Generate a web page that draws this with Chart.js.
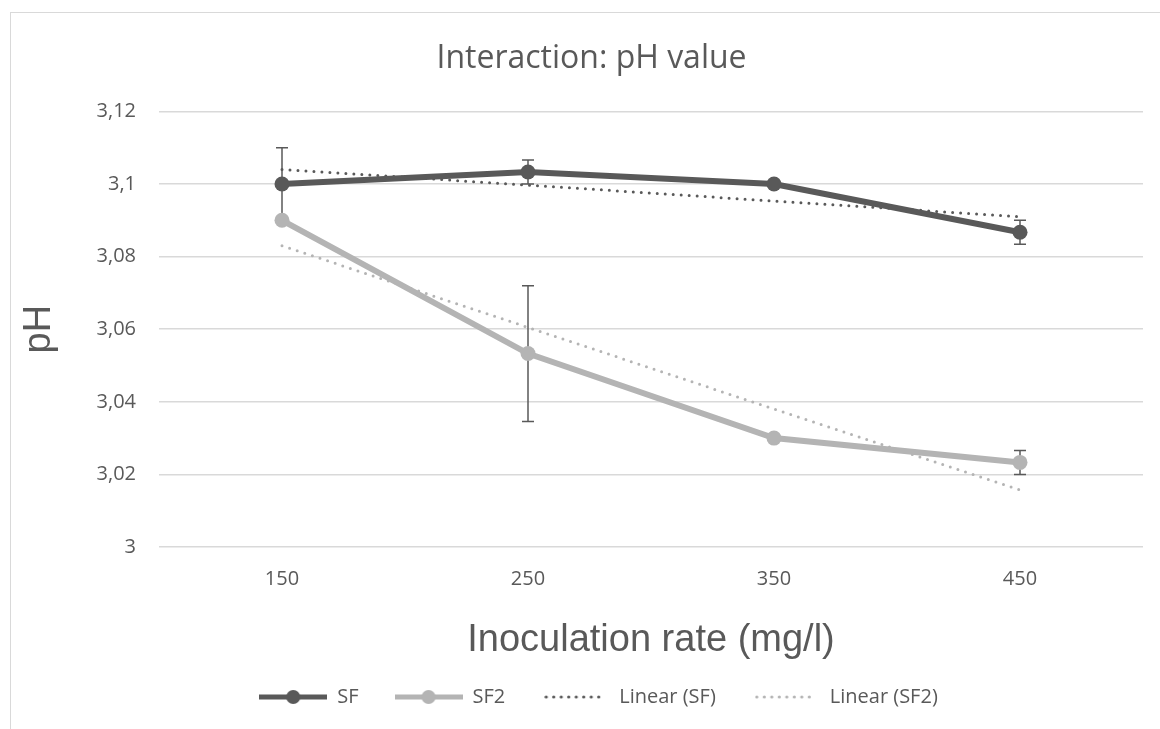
<!DOCTYPE html>
<html>
<head>
<meta charset="utf-8">
<script src="https://cdn.jsdelivr.net/npm/chart.js@4.4.0/dist/chart.umd.min.js"></script>
<style>
  body { margin: 0; background: #ffffff; }
  #wrap { position: relative; width: 1160px; height: 729px; }
</style>
</head>
<body>
<div id="wrap"><canvas id="phChart" width="1160" height="729"></canvas></div>
<script>
// categories and values
let rates = ["150", "250", "350", "450"];
let sfValues = [3.1, 3.1033, 3.1, 3.0867];
let sf2Values = [3.09, 3.0533, 3.03, 3.0233];
let sfErrors = [0.01, 0.0033, 0, 0.0033];
let sf2Errors = [0, 0.0187, 0, 0.0033];
let sfTrend = [3.104, 3.0997, 3.0953, 3.091];
let sf2Trend = [3.083, 3.0605, 3.038, 3.0157];
let yTicks = [3, 3.02, 3.04, 3.06, 3.08, 3.1, 3.12];

let darkGrey = '#595959';
let lightGrey = '#b4b4b4';
let textGrey = '#595959';

// little pictures for the legend
function lineIcon(color) {
    let c = document.createElement('canvas');
    c.width = 68; c.height = 18;
    let g = c.getContext('2d');
    g.strokeStyle = color;
    g.lineWidth = 5;
    g.beginPath(); g.moveTo(0, 9); g.lineTo(68, 9); g.stroke();
    g.fillStyle = color;
    g.beginPath(); g.arc(34, 9, 7, 0, Math.PI * 2); g.fill();
    return c;
}
function dotIcon(color) {
    let c = document.createElement('canvas');
    c.width = 62; c.height = 18;
    let g = c.getContext('2d');
    g.fillStyle = color;
    for (let x = 2; x < 62; x += 7.5) {
        g.beginPath(); g.arc(x, 9, 1.6, 0, Math.PI * 2); g.fill();
    }
    return c;
}
let legendIcons = [lineIcon(darkGrey), lineIcon(lightGrey), dotIcon(darkGrey), dotIcon(lightGrey)];

// error bars, the outer frame, and centring title/legend on the whole chart box
let extras = {
    id: 'extras',
    afterLayout(chart) {
        chart.titleBlock.left += 15;
        chart.titleBlock.right += 15;
        chart.legend.left += 22;
        chart.legend.right += 22;
    },
    beforeDraw(chart) {
        let ctx = chart.ctx;
        ctx.save();
        ctx.strokeStyle = '#d9d9d9';
        ctx.lineWidth = 1;
        ctx.strokeRect(10.5, 12.5, 1200, 800);
        ctx.restore();
    },
    beforeDatasetsDraw(chart) {
        let ctx = chart.ctx;
        let xs = chart.scales.x, ys = chart.scales.y;
        let sets = [[sfValues, sfErrors], [sf2Values, sf2Errors]];
        ctx.save();
        ctx.strokeStyle = darkGrey;
        ctx.lineWidth = 1.5;
        sets.forEach(function (s) {
            s[0].forEach(function (v, i) {
                let e = s[1][i];
                if (!e) return;
                let x = xs.getPixelForValue(i);
                let top = ys.getPixelForValue(v + e);
                let bot = ys.getPixelForValue(v - e);
                ctx.beginPath();
                ctx.moveTo(x, top); ctx.lineTo(x, bot);
                ctx.moveTo(x - 6, top); ctx.lineTo(x + 6, top);
                ctx.moveTo(x - 6, bot); ctx.lineTo(x + 6, bot);
                ctx.stroke();
            });
        });
        ctx.restore();
    }
};

let phData = {
    labels: rates,
    datasets: [
        {
            label: 'SF',
            data: sfValues,
            borderColor: darkGrey,
            backgroundColor: darkGrey,
            borderWidth: 6,
            pointRadius: 7.5,
            pointBorderWidth: 0,
            pointHoverRadius: 7.5
        },
        {
            label: 'SF2',
            data: sf2Values,
            borderColor: lightGrey,
            backgroundColor: lightGrey,
            borderWidth: 6,
            pointRadius: 7.5,
            pointBorderWidth: 0,
            pointHoverRadius: 7.5
        },
        {
            label: 'Linear (SF)',
            data: sfTrend,
            borderColor: darkGrey,
            borderWidth: 3,
            borderDash: [0, 8],
            borderCapStyle: 'round',
            pointRadius: 0
        },
        {
            label: 'Linear (SF2)',
            data: sf2Trend,
            borderColor: lightGrey,
            borderWidth: 3,
            borderDash: [0, 8],
            borderCapStyle: 'round',
            pointRadius: 0
        }
    ]
};

let phOptions = {
    responsive: false,
    animation: { duration: 0 },
    layout: { padding: { left: 10, right: 17, top: 0, bottom: 12 } },
    scales: {
        x: {
            offset: true,
            grid: { display: false, drawTicks: false },
            border: { display: false },
            ticks: { color: textGrey, font: { family: 'Open Sans', size: 20 }, padding: 20 },
            title: {
                display: true,
                text: 'Inoculation rate (mg/l)',
                color: textGrey,
                font: { family: 'Liberation Sans', size: 38 },
                padding: { top: 0, bottom: -12 }
            },
            afterFit(scale) { scale.height = 104; }
        },
        y: {
            min: 3,
            max: 3.12,
            afterBuildTicks(scale) { scale.ticks = yTicks.map(function (v) { return { value: v }; }); },
            grid: { color: '#d9d9d9', lineWidth: 1.5, drawTicks: false },
            border: { display: false },
            ticks: {
                color: textGrey,
                font: { family: 'Open Sans', size: 20 },
                padding: 23,
                callback: function (v) { return String(Math.round(v * 100) / 100).replace('.', ','); }
            },
            title: {
                display: true,
                text: 'pH',
                color: textGrey,
                font: { family: 'Liberation Sans', size: 38 },
                padding: { top: 7, bottom: 0 }
            },
            afterFit(scale) { scale.width = 149; }
        }
    },
    plugins: {
        title: {
            display: true,
            text: 'Interaction: pH value',
            color: textGrey,
            font: { family: 'Open Sans', size: 32, weight: 'normal' },
            padding: { top: 40, bottom: 33 }
        },
        legend: {
            position: 'bottom',
            labels: {
                color: textGrey,
                font: { family: 'Open Sans', size: 20 },
                usePointStyle: true,
                pointStyleWidth: 68,
                padding: 36,
                generateLabels: function (chart) {
                    let items = Chart.defaults.plugins.legend.labels.generateLabels(chart);
                    items.forEach(function (it, i) { it.pointStyle = legendIcons[i]; });
                    return items;
                }
            }
        },
        tooltip: { enabled: false }
    }
};

let phChart = new Chart(document.getElementById('phChart'), {
    type: 'line',
    data: phData,
    options: phOptions,
    plugins: [extras]
});
</script>
</body>
</html>
